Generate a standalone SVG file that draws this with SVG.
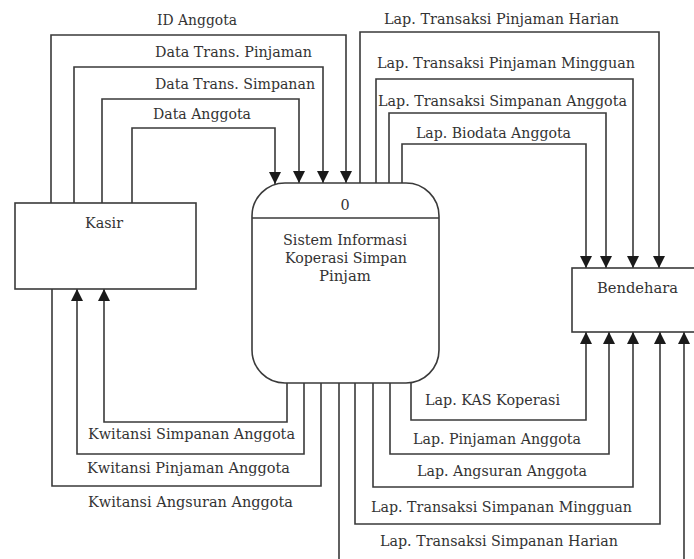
<svg xmlns="http://www.w3.org/2000/svg" width="694" height="559" viewBox="0 0 694 559">
<style>
  .box { fill: #ffffff; stroke: #3a3a3a; stroke-width: 1.6; }
  .flow { fill: none; stroke: #3a3a3a; stroke-width: 1.6; }
  .arr { marker-end: url(#ah); }
  text { font-family: "DejaVu Serif", "Liberation Serif", serif; font-size: 14.4px; fill: #333333; }
  .c { text-anchor: middle; }
</style>
<defs>
  <marker id="ah" markerUnits="userSpaceOnUse" markerWidth="12" markerHeight="12" viewBox="0 0 10 10" refX="10" refY="5" orient="auto">
    <path d="M0,0 L10,5 L0,10 z" fill="#1a1a1a"/>
  </marker>
</defs>
<rect width="694" height="559" fill="#ffffff"/>

<g id="connectors">
  <!-- Kasir to process -->
  <path class="flow arr" d="M51,203 V35 H346 V183"/>
  <path class="flow arr" d="M74,203 V67 H323 V183"/>
  <path class="flow arr" d="M102,203 V99 H299 V183"/>
  <path class="flow arr" d="M132,203 V128 H275 V184"/>
  <!-- process to Bendehara (top) -->
  <path class="flow arr" d="M360,183 V32 H659 V268"/>
  <path class="flow arr" d="M376,183 V79 H633 V268"/>
  <path class="flow arr" d="M389,183 V113 H606 V268"/>
  <path class="flow arr" d="M402,183 V144 H586 V268"/>
  <!-- process to Kasir (bottom) -->
  <path class="flow arr" d="M287,383 V422 H104 V289"/>
  <path class="flow arr" d="M304,383 V454 H77 V289"/>
  <path class="flow" d="M321,383 V486 H52 V289"/>
  <!-- process to Bendehara (bottom) -->
  <path class="flow arr" d="M411,382 V420 H586 V332"/>
  <path class="flow arr" d="M390,383 V454 H609 V332"/>
  <path class="flow arr" d="M373,383 V487 H633 V332"/>
  <path class="flow arr" d="M355,383 V524 H660 V332"/>
  <path class="flow arr" d="M339,383 V570 H684 V332"/>

  <text x="197" y="25" class="c" textLength="80" lengthAdjust="spacingAndGlyphs">ID Anggota</text>
  <text x="155" y="57" textLength="157" lengthAdjust="spacingAndGlyphs">Data Trans. Pinjaman</text>
  <text x="155" y="89" textLength="160" lengthAdjust="spacingAndGlyphs">Data Trans. Simpanan</text>
  <text x="153" y="119" textLength="98" lengthAdjust="spacingAndGlyphs">Data Anggota</text>

  <text x="384" y="24" textLength="235" lengthAdjust="spacingAndGlyphs">Lap. Transaksi Pinjaman Harian</text>
  <text x="377" y="68" textLength="258" lengthAdjust="spacingAndGlyphs">Lap. Transaksi Pinjaman Mingguan</text>
  <text x="378" y="106" textLength="249" lengthAdjust="spacingAndGlyphs">Lap. Transaksi Simpanan Anggota</text>
  <text x="416" y="138" textLength="155" lengthAdjust="spacingAndGlyphs">Lap. Biodata Anggota</text>

  <text x="88" y="439" textLength="207" lengthAdjust="spacingAndGlyphs">Kwitansi Simpanan Anggota</text>
  <text x="87" y="473" textLength="203" lengthAdjust="spacingAndGlyphs">Kwitansi Pinjaman Anggota</text>
  <text x="88" y="507" textLength="205" lengthAdjust="spacingAndGlyphs">Kwitansi Angsuran Anggota</text>

  <text x="425" y="405" textLength="135" lengthAdjust="spacingAndGlyphs">Lap. KAS Koperasi</text>
  <text x="413" y="444" textLength="168" lengthAdjust="spacingAndGlyphs">Lap. Pinjaman Anggota</text>
  <text x="417" y="476" textLength="170" lengthAdjust="spacingAndGlyphs">Lap. Angsuran Anggota</text>
  <text x="371" y="512" textLength="261" lengthAdjust="spacingAndGlyphs">Lap. Transaksi Simpanan Mingguan</text>
  <text x="380" y="546" textLength="238" lengthAdjust="spacingAndGlyphs">Lap. Transaksi Simpanan Harian</text>
</g>

<g id="kasir">
  <rect class="box" x="15" y="203" width="181" height="86"/>
  <text x="104" y="228" class="c" textLength="38" lengthAdjust="spacingAndGlyphs">Kasir</text>
</g>

<g id="process-0">
  <rect class="box" x="252" y="183" width="187" height="200" rx="33" ry="33"/>
  <line class="flow" x1="252" y1="218" x2="439" y2="218"/>
  <text x="345" y="210" class="c">0</text>
  <text x="345" y="245" class="c" textLength="124" lengthAdjust="spacingAndGlyphs">Sistem Informasi</text>
  <text x="346" y="263" class="c" textLength="122" lengthAdjust="spacingAndGlyphs">Koperasi Simpan</text>
  <text x="345" y="281" class="c" textLength="52" lengthAdjust="spacingAndGlyphs">Pinjam</text>
</g>

<g id="bendehara">
  <rect class="box" x="572" y="268" width="130" height="64"/>
  <text x="637.5" y="293" class="c" textLength="81" lengthAdjust="spacingAndGlyphs">Bendehara</text>
</g>
</svg>
